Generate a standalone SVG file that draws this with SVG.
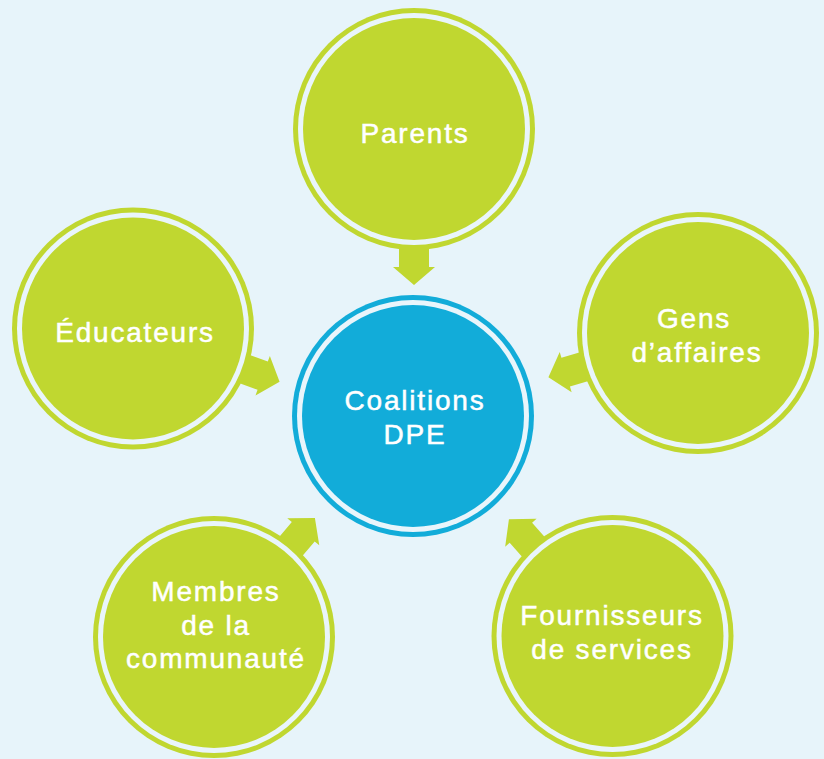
<svg xmlns="http://www.w3.org/2000/svg" xmlns:xlink="http://www.w3.org/1999/xlink" width="824" height="759" viewBox="0 0 824 759">
  <style>
    .bg { fill: #e7f4fa; }
    .green { fill: #c0d730; }
    .blue { fill: #12acd9; }
    .gap { fill: #e9f5fb; }
    .lbl { font-family: "Liberation Sans", Arial, Helvetica, sans-serif; font-size: 28px; letter-spacing: 1.8px; fill: #ffffff; stroke: #ffffff; stroke-width: 0.5px; text-anchor: middle; }
  </style>
  <defs>
    <path id="arrow" d="M108,-15 L138,-15 L138,-21 L156,0 L138,21 L138,15 L108,15 Z"/>
  </defs>
  <rect class="bg" x="0" y="0" width="824" height="759"/>

  <g id="connectors" class="green">
    <use xlink:href="#arrow" transform="translate(414,129) rotate(90)"/>
    <use xlink:href="#arrow" transform="translate(133,328.5) rotate(20)"/>
    <use xlink:href="#arrow" transform="translate(698,333) rotate(163.5)"/>
    <use xlink:href="#arrow" transform="translate(214,637) rotate(-49.7)"/>
    <use xlink:href="#arrow" transform="translate(612.5,636) rotate(-131.6)"/>
  </g>

  <g id="coalitions">
    <circle class="blue" cx="413" cy="416" r="121"/>
    <circle class="gap" cx="413" cy="416" r="116"/>
    <circle class="blue" cx="413" cy="416" r="111"/>
    <text class="lbl" x="415" y="410">Coalitions</text>
    <text class="lbl" x="415" y="444">DPE</text>
  </g>

  <g id="parents">
    <circle class="green" cx="414" cy="129" r="121"/>
    <circle class="gap" cx="414" cy="129" r="116"/>
    <circle class="green" cx="414" cy="129" r="111"/>
    <text class="lbl" x="415" y="143">Parents</text>
  </g>

  <g id="educateurs">
    <circle class="green" cx="133" cy="328.5" r="121"/>
    <circle class="gap" cx="133" cy="328.5" r="116"/>
    <circle class="green" cx="133" cy="328.5" r="111"/>
    <text class="lbl" x="135" y="342">Éducateurs</text>
  </g>

  <g id="gens-affaires">
    <circle class="green" cx="698" cy="333" r="121"/>
    <circle class="gap" cx="698" cy="333" r="116"/>
    <circle class="green" cx="698" cy="333" r="111"/>
    <text class="lbl" x="694" y="328">Gens</text>
    <text class="lbl" x="697" y="362">d’affaires</text>
  </g>

  <g id="membres">
    <circle class="green" cx="214" cy="637" r="121"/>
    <circle class="gap" cx="214" cy="637" r="116"/>
    <circle class="green" cx="214" cy="637" r="111"/>
    <text class="lbl" x="216" y="601">Membres</text>
    <text class="lbl" x="216" y="635">de la</text>
    <text class="lbl" x="216" y="668">communauté</text>
  </g>

  <g id="fournisseurs">
    <circle class="green" cx="612.5" cy="636" r="121"/>
    <circle class="gap" cx="612.5" cy="636" r="116"/>
    <circle class="green" cx="612.5" cy="636" r="111"/>
    <text class="lbl" x="612" y="625">Fournisseurs</text>
    <text class="lbl" x="612" y="659">de services</text>
  </g>
</svg>
